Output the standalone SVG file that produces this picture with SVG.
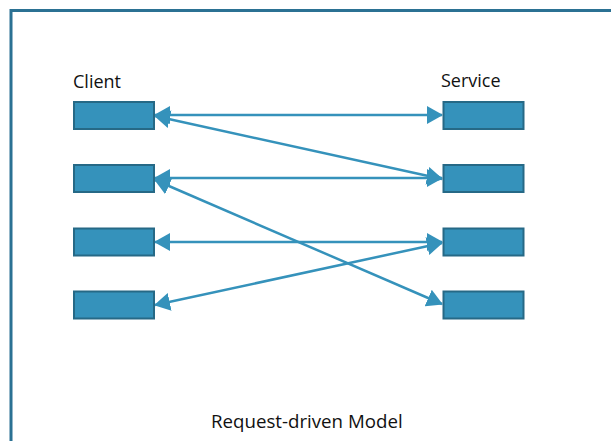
<svg xmlns="http://www.w3.org/2000/svg" width="611" height="441" viewBox="0 0 611 441">
  <defs>
    <style>
      .frame { fill: #ffffff; stroke: #2b7193; stroke-width: 3; }
      .box { fill: #3592bb; stroke: #266986; stroke-width: 2; }
      .conn { stroke: #3592bb; stroke-width: 2.5; fill: none; marker-start: url(#head); marker-end: url(#head); }
      .label { font-family: "Open Sans", "Liberation Sans", sans-serif; font-size: 18px; fill: #111111; }
    </style>
    <marker id="head" viewBox="0 0 16 18" refX="15" refY="9" markerWidth="16" markerHeight="18" markerUnits="userSpaceOnUse" orient="auto-start-reverse">
      <path d="M0,0 L16,9 L0,18 z" fill="#3592bb"/>
    </marker>
  </defs>
  <rect width="611" height="441" fill="#ffffff"/>
  <rect class="frame" x="11" y="10.5" width="620" height="450"/>

  <g id="connectors">
    <line class="conn" x1="155" y1="115" x2="442" y2="115"/>
    <line class="conn" x1="155" y1="116" x2="442" y2="179"/>
    <line class="conn" x1="155" y1="178" x2="442" y2="178"/>
    <line class="conn" x1="155" y1="180" x2="442" y2="304"/>
    <line class="conn" x1="155" y1="242" x2="442" y2="242"/>
    <line class="conn" x1="155" y1="305" x2="442" y2="243"/>
  </g>

  <g id="client-label"><text class="label" x="73" y="88">Client</text></g>
  <g id="service-label"><text class="label" x="441" y="86.5">Service</text></g>

  <g id="client1"><rect class="box" x="74" y="102" width="80" height="27"/></g>
  <g id="client2"><rect class="box" x="74" y="165" width="80" height="27"/></g>
  <g id="client3"><rect class="box" x="74" y="228.5" width="80" height="27"/></g>
  <g id="client4"><rect class="box" x="74" y="291.5" width="80" height="27"/></g>

  <g id="service1"><rect class="box" x="443.5" y="102" width="80" height="27"/></g>
  <g id="service2"><rect class="box" x="443.5" y="165" width="80" height="27"/></g>
  <g id="service3"><rect class="box" x="443.5" y="228.5" width="80" height="27"/></g>
  <g id="service4"><rect class="box" x="443.5" y="291.5" width="80" height="27"/></g>

  <g id="caption"><text class="label" x="211" y="428" style="font-size:18.7px">Request-driven Model</text></g>
</svg>
